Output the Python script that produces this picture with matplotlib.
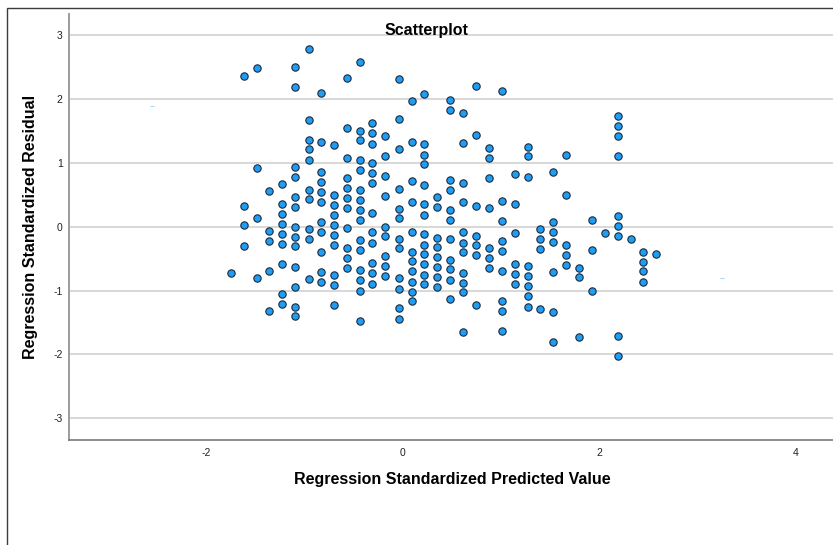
import numpy as np
import matplotlib.pyplot as plt
from matplotlib.patches import Rectangle

plt.rcParams['font.family'] = ['Liberation Sans', 'DejaVu Sans']
plt.rcParams['axes.unicode_minus'] = False

# standardized predicted value for each column of cases
pred_levels = [-1.75, -1.62, -1.49, -1.36, -1.23, -1.10, -0.96, -0.83, -0.70, -0.57,
               -0.44, -0.31, -0.18, -0.04, 0.09, 0.22, 0.35, 0.48, 0.61, 0.74,
               0.88, 1.01, 1.14, 1.27, 1.40, 1.53, 1.66, 1.79, 1.93, 2.06,
               2.19, 2.32, 2.45, 2.58]

# standardized residuals of the cases in each column
resid_by_level = [
    [-0.72],
    [2.36, 0.33, 0.02, -0.30],
    [2.48, 0.92, 0.13, -0.81],
    [0.56, -0.06, -0.22, -0.69, -1.32],
    [0.67, 0.35, 0.20, 0.04, -0.11, -0.27, -0.58, -1.05, -1.21],
    [2.50, 2.19, 0.94, 0.78, 0.47, 0.31, 0.00, -0.16, -0.31, -0.63, -0.94, -1.25, -1.40],
    [2.78, 1.67, 1.36, 1.21, 1.05, 0.58, 0.43, -0.03, -0.20, -0.82],
    [2.10, 1.32, 0.86, 0.70, 0.54, 0.39, 0.07, -0.09, -0.39, -0.71, -0.87],
    [1.28, 0.50, 0.34, 0.18, 0.03, -0.13, -0.29, -0.76, -0.91, -1.23],
    [2.33, 1.55, 1.08, 0.77, 0.61, 0.45, 0.30, -0.02, -0.33, -0.49, -0.64],
    [2.58, 1.50, 1.35, 1.04, 0.88, 0.57, 0.41, 0.26, 0.10, -0.21, -0.37, -0.68, -0.84, -1.00, -1.47],
    [1.62, 1.46, 1.30, 1.00, 0.84, 0.68, 0.21, -0.09, -0.26, -0.57, -0.73, -0.89],
    [1.42, 1.11, 0.79, 0.48, 0.00, -0.15, -0.46, -0.61, -0.77],
    [2.32, 1.68, 1.22, 0.59, 0.28, 0.13, -0.19, -0.34, -0.81, -0.97, -1.28, -1.44],
    [1.96, 1.33, 0.71, 0.39, -0.08, -0.39, -0.54, -0.70, -0.86, -1.02, -1.17],
    [2.07, 1.29, 1.13, 0.98, 0.66, 0.35, 0.19, -0.12, -0.28, -0.43, -0.59, -0.75, -0.90],
    [0.46, 0.31, -0.17, -0.32, -0.47, -0.63, -0.79, -0.94],
    [1.98, 1.83, 0.73, 0.57, 0.26, 0.10, -0.20, -0.52, -0.67, -0.83, -1.14],
    [1.78, 1.31, 0.69, 0.38, -0.08, -0.25, -0.40, -0.72, -0.88, -1.03, -1.65],
    [2.21, 1.43, 0.33, -0.14, -0.29, -0.45, -1.23],
    [1.23, 1.07, 0.76, 0.29, -0.33, -0.49, -0.65],
    [2.12, 0.40, 0.09, -0.22, -0.38, -0.69, -1.16, -1.32, -1.63],
    [0.83, 0.36, -0.10, -0.58, -0.74, -0.89],
    [1.25, 1.10, 0.78, -0.62, -0.78, -0.93, -1.09, -1.25],
    [-0.04, -0.20, -0.35, -1.29],
    [0.86, 0.07, -0.08, -0.24, -0.71, -1.34, -1.80],
    [1.13, 0.50, -0.28, -0.44, -0.60],
    [-0.64, -0.79, -1.73],
    [0.10, -0.37, -1.00],
    [-0.10],
    [1.73, 1.58, 1.42, 1.11, 0.17, 0.01, -0.15, -1.71, -2.02],
    [-0.19],
    [-0.39, -0.55, -0.70, -0.86],
    [-0.43],
]

# two faint stray marks
stray_x = [-2.55, 3.25]
stray_y = [1.89, -0.80]

x_ticks = [-2, 0, 2, 4]
y_ticks = [-3, -2, -1, 0, 1, 2, 3]

pred = []
resid = []
for level, values in zip(pred_levels, resid_by_level):
    for v in values:
        pred.append(level)
        resid.append(v)

fig = plt.figure(figsize=(8.33, 5.45), dpi=100)
ax = fig.add_axes([69 / 833, 1 - 440 / 545, 1 - 69 / 833, (440 - 14) / 545])

ax.scatter(pred, resid, s=28, c='#1f9df2', edgecolors='#1a2a3e', linewidths=0.8, zorder=3)
ax.scatter(stray_x, stray_y, marker='_', s=12, c='#a8d8f7', linewidths=0.8, zorder=3)

ax.set_xlim(-3.40, 4.38)
ax.set_ylim(-3.34, 3.33)
ax.set_xticks(x_ticks)
ax.set_yticks(y_ticks)
ax.set_xticklabels([str(t) for t in x_ticks])
ax.set_yticklabels([str(t) for t in y_ticks])
ax.tick_params(length=0, labelsize=7.5, colors='#222222')
ax.tick_params(axis='y', pad=4.5)
ax.tick_params(axis='x', pad=6)

ax.grid(axis='y', color='#d6d6d6', linewidth=1.3)
ax.set_axisbelow(True)
for side in ['top', 'right']:
    ax.spines[side].set_visible(False)
ax.spines['left'].set_color('#9c9c9c')
ax.spines['left'].set_linewidth(1.4)
ax.spines['bottom'].set_color('#7a7a7a')
ax.spines['bottom'].set_linewidth(1.2)

fig.text(426 / 833, 1 - 34.5 / 545, 'Scatterplot', ha='center', va='baseline',
         fontsize=11.5, fontweight='bold')
fig.text(452 / 833, 1 - 484 / 545, 'Regression Standardized Predicted Value',
         ha='center', va='baseline', fontsize=11.5, fontweight='bold')
fig.text(31 / 833, 1 - 227 / 545, 'Regression Standardized Residual', rotation=90,
         ha='center', va='center', fontsize=11.5, fontweight='bold')

# outer chart frame
fig.patches.append(Rectangle((7 / 833, -0.1), 1.2, 1.1 - 8.5 / 545, transform=fig.transFigure,
                             fill=False, edgecolor='#3c3c3c', linewidth=1.0))

fig.savefig('out.png', dpi=100)
